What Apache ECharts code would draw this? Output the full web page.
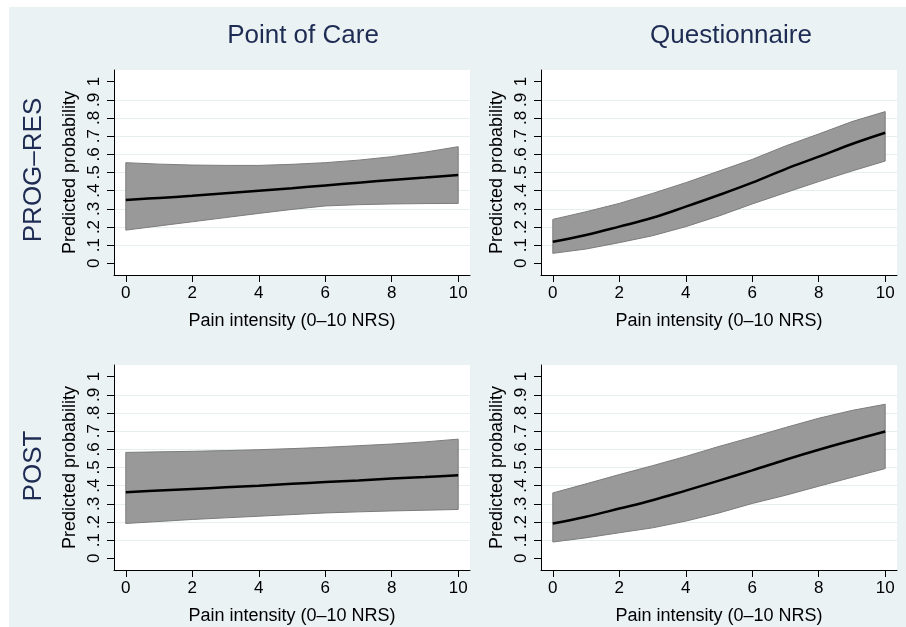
<!DOCTYPE html>
<html>
<head>
<meta charset="utf-8">
<script src="https://cdn.jsdelivr.net/npm/echarts@6/dist/echarts.min.js"></script>
<style>
html,body{margin:0;padding:0;background:#fff;}
#c{width:906px;height:627px;}
</style>
</head>
<body>
<div id="c"></div>
<script>
// ---- data ----
const painX = [0, 1, 2, 3, 4, 5, 6, 7, 8, 9, 10];
const colTitles = ['Point of Care', 'Questionnaire'];
const rowTitles = ['PROG\u2013RES', 'POST'];
const xTicks = [0, 2, 4, 6, 8, 10];
const yTicks = [0, 0.1, 0.2, 0.3, 0.4, 0.5, 0.6, 0.7, 0.8, 0.9, 1];
const yTickLabels = ['0', '.1', '.2', '.3', '.4', '.5', '.6', '.7', '.8', '.9', '1'];
const xTitle = 'Pain intensity (0\u201310 NRS)';
const yTitle = 'Predicted probability';

// PROG-RES, Point of Care
const progPocMean  = [0.349, 0.360, 0.372, 0.386, 0.400, 0.414, 0.429, 0.444, 0.459, 0.472, 0.486];
const progPocUpper = [0.554, 0.546, 0.541, 0.539, 0.539, 0.545, 0.554, 0.568, 0.587, 0.612, 0.642];
const progPocLower = [0.183, 0.206, 0.229, 0.252, 0.275, 0.297, 0.316, 0.323, 0.327, 0.329, 0.330];
// PROG-RES, Questionnaire
const progQMean  = [0.119, 0.156, 0.202, 0.251, 0.312, 0.376, 0.444, 0.519, 0.587, 0.657, 0.719];
const progQUpper = [0.242, 0.284, 0.330, 0.385, 0.444, 0.508, 0.572, 0.646, 0.712, 0.780, 0.835];
const progQLower = [0.055, 0.079, 0.114, 0.152, 0.202, 0.261, 0.327, 0.389, 0.450, 0.508, 0.563];
// POST, Point of Care
const postPocMean  = [0.364, 0.373, 0.382, 0.391, 0.400, 0.410, 0.420, 0.429, 0.439, 0.448, 0.457];
const postPocUpper = [0.583, 0.586, 0.589, 0.593, 0.598, 0.604, 0.611, 0.620, 0.629, 0.641, 0.656];
const postPocLower = [0.192, 0.203, 0.214, 0.223, 0.232, 0.241, 0.250, 0.256, 0.261, 0.265, 0.269];
// POST, Questionnaire
const postQMean  = [0.192, 0.229, 0.274, 0.320, 0.373, 0.428, 0.484, 0.543, 0.598, 0.649, 0.698];
const postQUpper = [0.360, 0.410, 0.461, 0.510, 0.561, 0.616, 0.667, 0.720, 0.771, 0.814, 0.848];
const postQLower = [0.090, 0.113, 0.141, 0.168, 0.205, 0.250, 0.302, 0.347, 0.397, 0.446, 0.494];

const panels = [
  {mean: progPocMean, upper: progPocUpper, lower: progPocLower},
  {mean: progQMean, upper: progQUpper, lower: progQLower},
  {mean: postPocMean, upper: postPocUpper, lower: postPocLower},
  {mean: postQMean, upper: postQUpper, lower: postQLower}
];

// ---- layout ----
const FONT = '"Liberation Sans", Arial, Helvetica, sans-serif';
const gridPos = [
  {left: 114, top: 70, width: 356, height: 205},
  {left: 541, top: 70, width: 356, height: 205},
  {left: 114, top: 365, width: 356, height: 205},
  {left: 541, top: 365, width: 356, height: 205}
];
const gridLineColors = yTicks.map((v, i) => (i === 0 || i === yTicks.length - 1) ? 'rgba(0,0,0,0)' : '#e6eef0');

const grids = [], xAxes = [], yAxes = [], series = [];
gridPos.forEach((g, i) => {
  grids.push(Object.assign({show: true, backgroundColor: '#ffffff', borderWidth: 0, containLabel: false}, g));
  xAxes.push({
    gridIndex: i, type: 'value', min: -0.355, max: 10.355,
    axisLine: {show: true, onZero: false, lineStyle: {color: '#000', width: 1}},
    axisTick: {show: true, length: 7, customValues: xTicks, lineStyle: {color: '#000', width: 1}},
    axisLabel: {customValues: xTicks, fontSize: 17, color: '#000', fontFamily: FONT, margin: 10},
    splitLine: {show: false},
    name: xTitle, nameLocation: 'middle', nameGap: 37,
    nameTextStyle: {fontSize: 18, color: '#000', fontFamily: FONT}
  });
  yAxes.push({
    gridIndex: i, type: 'value', min: -0.064, max: 1.064,
    axisLine: {show: true, onZero: false, lineStyle: {color: '#000', width: 1}},
    axisTick: {show: true, length: 7, customValues: yTicks, lineStyle: {color: '#000', width: 1}},
    axisLabel: {customValues: yTicks, rotate: 90, fontSize: 17, color: '#000', fontFamily: FONT, margin: 11,
      formatter: v => yTickLabels[Math.round(v * 10)]},
    splitLine: {show: true, lineStyle: {color: gridLineColors, width: 1}},
    name: yTitle, nameLocation: 'middle', nameGap: 35, nameRotate: 90,
    nameTextStyle: {fontSize: 18, color: '#000', fontFamily: FONT}
  });
  const p = panels[i];
  // confidence band as one polygon through the axis scales
  series.push({
    type: 'custom', xAxisIndex: i, yAxisIndex: i, silent: true, z: 2,
    data: painX.map((x, k) => [x, p.lower[k], p.upper[k]]),
    encode: {x: 0, y: [1, 2]},
    renderItem: (params, api) => {
      if (params.dataIndex !== 0) return null;
      const pts = [];
      for (let k = 0; k < painX.length; k++) pts.push(api.coord([painX[k], p.upper[k]]));
      for (let k = painX.length - 1; k >= 0; k--) pts.push(api.coord([painX[k], p.lower[k]]));
      return {
        type: 'polygon',
        shape: {points: pts},
        style: {fill: '#999999', stroke: '#7c7c7c', lineWidth: 1}
      };
    }
  });
  series.push({
    type: 'line', xAxisIndex: i, yAxisIndex: i, smooth: 0.4, symbol: 'none',
    data: painX.map((x, k) => [x, p.mean[k]]),
    lineStyle: {color: '#000', width: 2.5}, silent: true, z: 3
  });
});

const chart = echarts.init(document.getElementById('c'), null, {renderer: 'canvas'});
chart.setOption({
  animation: false,
  backgroundColor: '#ffffff',
  title: [
    {text: colTitles[0], left: 298, top: 18, textAlign: 'center',
      textStyle: {fontSize: 26, fontWeight: 'normal', color: '#1e2b52', fontFamily: FONT}},
    {text: colTitles[1], left: 726, top: 18, textAlign: 'center',
      textStyle: {fontSize: 26, fontWeight: 'normal', color: '#1e2b52', fontFamily: FONT}}
  ],
  graphic: [
    {type: 'rect', left: 9, top: 7, z: -10, silent: true,
      shape: {width: 897, height: 620}, style: {fill: '#eaf2f3'}},
    {type: 'text', x: 34, y: 170, rotation: Math.PI / 2, silent: true,
      style: {text: rowTitles[0], fill: '#1e2b52', font: '26px ' + FONT, textAlign: 'center', textVerticalAlign: 'middle'}},
    {type: 'text', x: 34, y: 466, rotation: Math.PI / 2, silent: true,
      style: {text: rowTitles[1], fill: '#1e2b52', font: '26px ' + FONT, textAlign: 'center', textVerticalAlign: 'middle'}}
  ],
  grid: grids,
  xAxis: xAxes,
  yAxis: yAxes,
  series: series
});
</script>
</body>
</html>
